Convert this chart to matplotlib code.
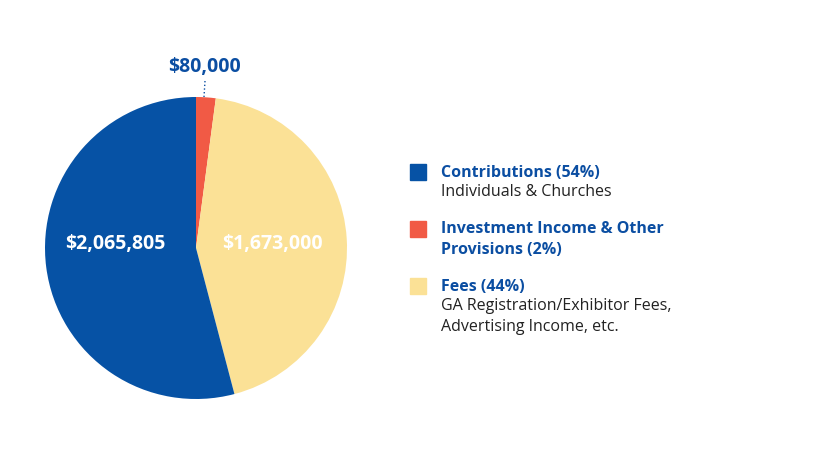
import matplotlib.pyplot as plt
from matplotlib.patches import Rectangle

values = [80000, 1673000, 2065805]
colors = ["#f15a45", "#fbe196", "#0652a5"]
value_labels = ["$80,000", "$1,673,000", "$2,065,805"]
legend_titles = ["Contributions (54%)", "Investment Income & Other\nProvisions (2%)", "Fees (44%)"]
legend_subs = ["Individuals & Churches", "", "GA Registration/Exhibitor Fees,\nAdvertising Income, etc."]
legend_colors = ["#0652a5", "#f15a45", "#fbe196"]

plt.rcParams['font.family'] = ['Open Sans', 'DejaVu Sans']
W, H = 822, 477
fig = plt.figure(figsize=(W/100, H/100), dpi=100)
ax = fig.add_axes([(196-151)/W, (477-249-151)/H, 302/W, 302/H])
ax.pie(values, colors=colors, startangle=90, counterclock=False, radius=1)
ax.set_xlim(-1, 1); ax.set_ylim(-1, 1); ax.set_aspect('equal'); ax.axis('off')

blue = "#0b4ea2"
def fx(x): return x/W
def fy(y): return 1-y/H
fig.text(fx(115), fy(244), value_labels[2], color='white', fontsize=14, fontweight='bold', ha='center', va='center')
fig.text(fx(272), fy(244), value_labels[1], color='white', fontsize=14, fontweight='bold', ha='center', va='center')
fig.text(fx(204), fy(67), value_labels[0], color=blue, fontsize=14, fontweight='bold', ha='center', va='center')
fig.add_artist(plt.Line2D([fx(205), fx(204)], [fy(82), fy(98)], color=blue, lw=1, ls=':'))

ys = [173, 230, 287]
for y, t, s, c in zip(ys, legend_titles, legend_subs, legend_colors):
    fig.add_artist(Rectangle((fx(410), fy(y+8)), 16/W, 16/H, color=c, transform=fig.transFigure))
    fig.text(fx(441), fy(y), t, color=blue, fontsize=11.5, fontweight='bold', va='center', linespacing=1.45) if '\n' not in t else \
        fig.text(fx(441), fy(y-9), t, color=blue, fontsize=11.5, fontweight='bold', va='top', linespacing=1.45)
    if s:
        fig.text(fx(441), fy(y+11), s, color='#222222', fontsize=11.5, va='top', linespacing=1.45)

fig.savefig("out.png", dpi=100)
